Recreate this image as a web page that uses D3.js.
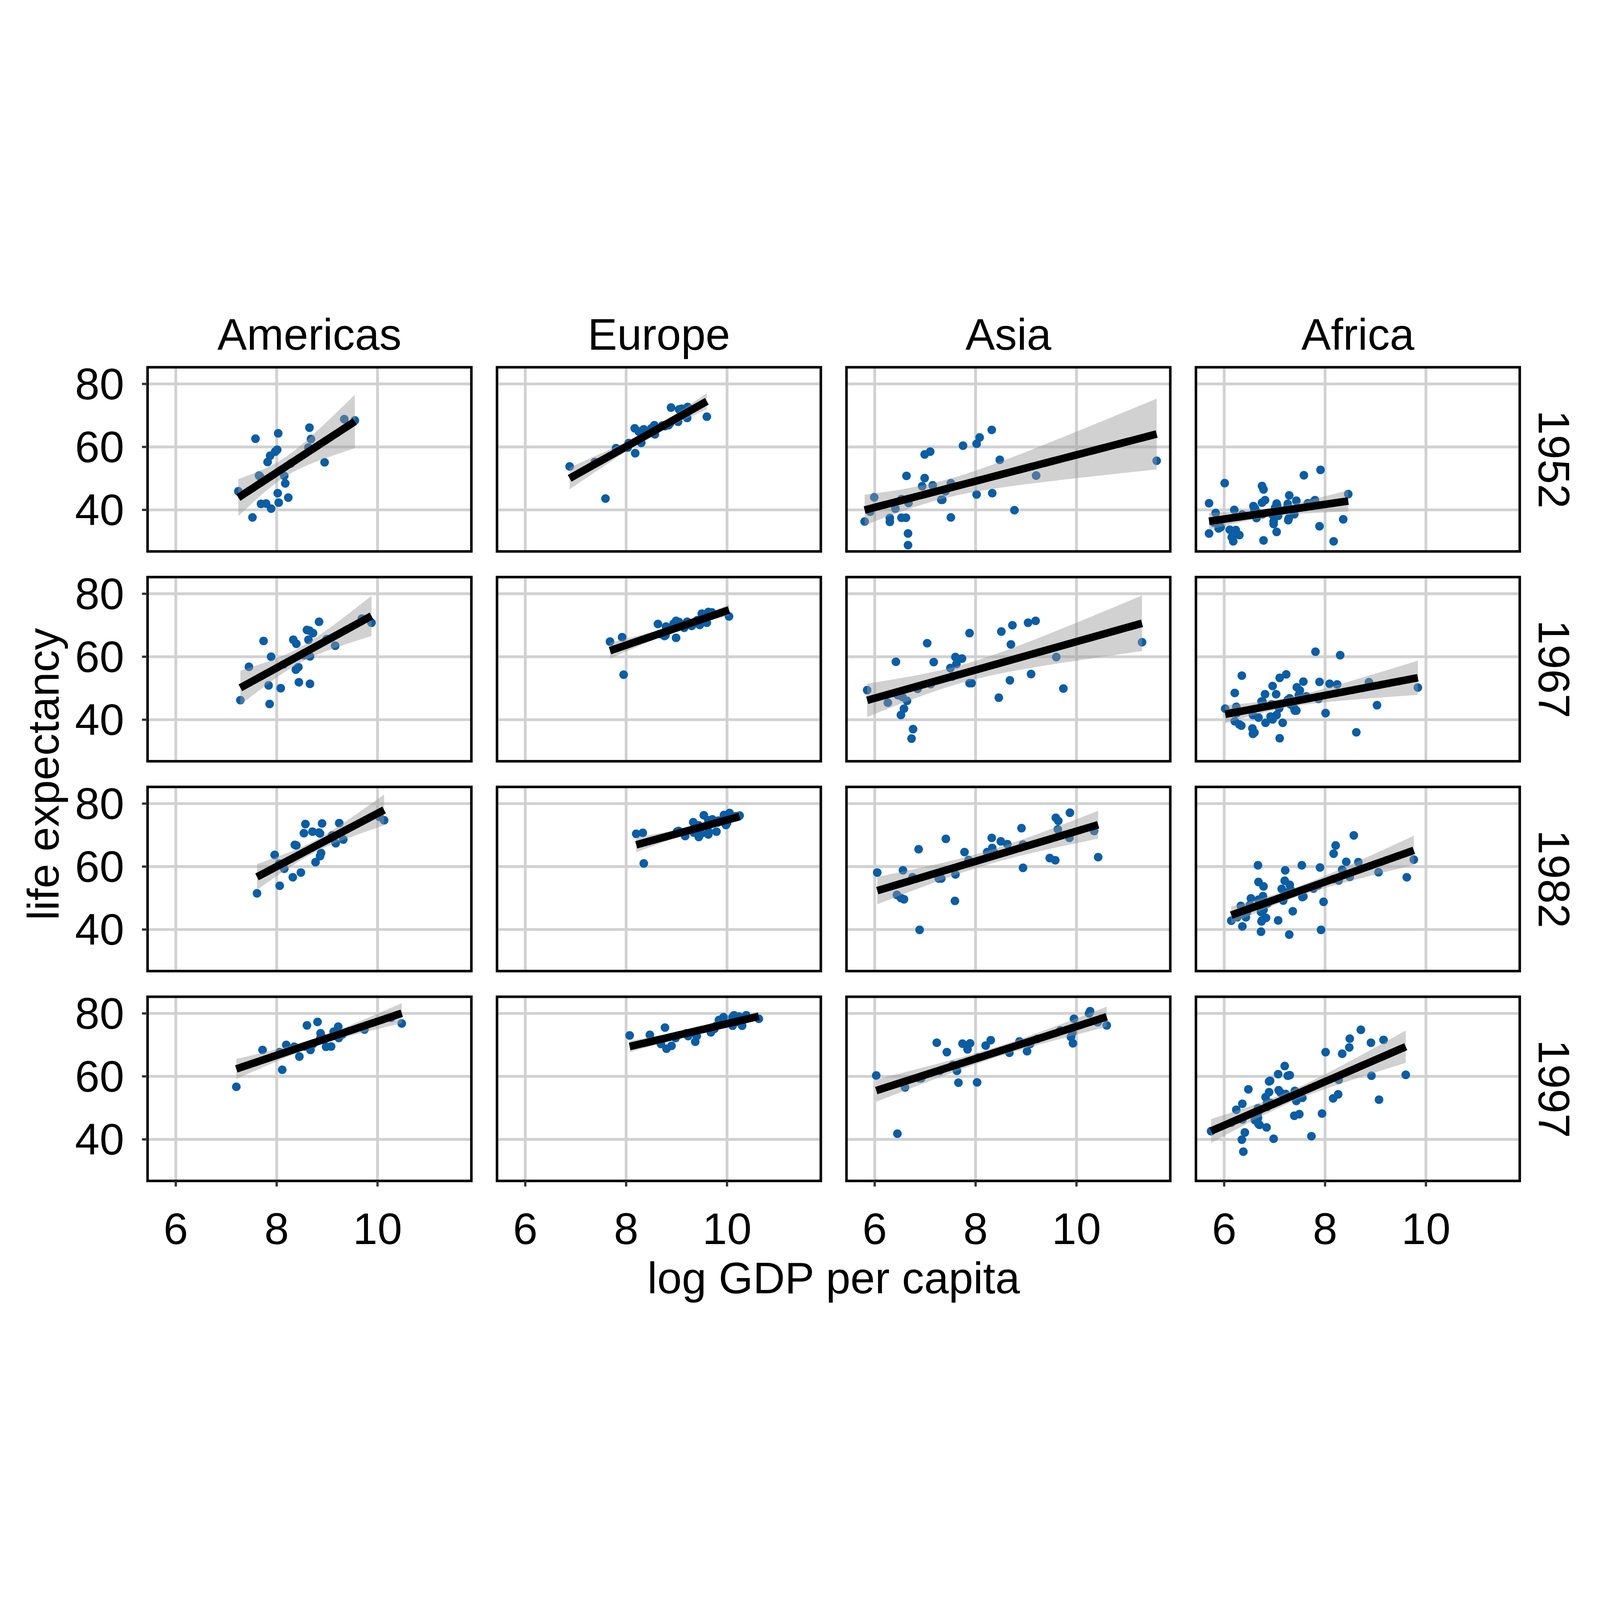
<!DOCTYPE html>
<html>
<head>
  <meta charset="utf-8">
  <title>life expectancy vs log GDP per capita</title>
  <script src="https://d3js.org/d3.v7.min.js"></script>
  <style>
    html, body { margin: 0; padding: 0; background: #fff; overflow: hidden; }
    svg { display: block; width: 100vw; height: 100vh; }
    text { font-family: "Liberation Sans", Arial, sans-serif; fill: #000; }
  </style>
</head>
<body>
<script>
// facets and tick labels
var continents = ["Americas", "Europe", "Asia", "Africa"];
var years = [1952, 1967, 1982, 1997];
var xTicks = [6, 8, 10];
var yTicks = [40, 60, 80];

// each point: [log GDP per capita, life expectancy]
var americas1952 = [[7.24,45.9],[7.52,37.6],[7.58,62.6],[7.67,50.6],[7.65,50.9],[7.69,41.9],[7.79,42.0],[7.89,40.4],[7.82,55.2],[7.87,57.2],[7.97,58.5],[8.01,59.1],[8.03,64.3],[8.02,45.3],[8.04,42.3],[8.15,50.8],[8.17,48.4],[8.23,43.9],[8.28,54.7],[8.63,59.8],[8.65,66.1],[8.68,62.5],[8.95,55.1],[9.34,68.8],[9.55,68.4]];
var europe1952 = [[7.38,55.2],[8.72,66.8],[9.03,68.0],[6.88,53.8],[7.80,59.6],[8.05,61.2],[8.84,66.9],[9.18,70.8],[8.77,66.6],[8.86,67.4],[8.87,67.5],[8.17,65.9],[8.57,64.0],[8.89,72.5],[8.56,66.9],[8.50,65.9],[7.88,59.2],[9.10,72.1],[9.22,72.7],[8.30,61.3],[8.03,59.8],[8.05,61.1],[8.18,58.0],[8.53,64.4],[8.35,65.6],[8.25,64.9],[9.05,71.9],[9.60,69.6],[7.59,43.6],[9.21,69.2]];
var asia1952 = [[5.80,36.3],[5.91,39.4],[5.99,44.0],[6.30,37.4],[6.30,36.2],[6.41,40.4],[6.53,37.5],[6.53,43.4],[6.62,37.5],[6.67,42.2],[6.66,32.5],[6.66,28.8],[6.63,50.8],[6.94,47.5],[6.99,50.1],[6.99,57.6],[7.10,58.5],[7.15,47.8],[7.34,43.2],[7.32,43.2],[7.40,45.9],[7.51,48.5],[7.51,37.6],[7.75,60.4],[8.02,61.0],[8.08,63.0],[8.32,65.4],[8.02,44.9],[8.33,45.3],[8.48,55.9],[8.77,39.9],[9.20,50.9],[11.59,55.6]];
var africa1952 = [[7.80,43.1],[8.17,30.0],[6.97,38.2],[6.75,47.6],[6.30,32.0],[5.83,39.0],[7.07,38.5],[6.98,35.5],[7.07,38.1],[7.01,40.7],[6.66,39.1],[7.66,42.1],[7.24,40.5],[7.89,34.8],[7.26,41.9],[5.93,34.5],[5.80,35.9],[5.89,34.1],[8.36,37.0],[6.18,30.0],[6.81,43.1],[6.23,33.6],[5.70,32.5],[6.75,42.3],[5.70,42.1],[6.36,38.5],[7.78,42.7],[7.27,36.7],[5.91,36.3],[6.11,33.7],[6.61,40.5],[7.58,51.0],[7.43,42.9],[6.15,31.3],[7.79,41.7],[6.64,37.4],[6.98,36.3],[7.91,52.7],[6.20,40.0],[6.78,46.5],[7.28,37.3],[6.78,30.3],[7.04,33.0],[8.46,45.0],[7.39,38.6],[7.05,41.4],[6.58,41.2],[6.76,38.6],[7.29,44.6],[6.60,40.0],[7.04,42.0],[6.01,48.5]];

var americas1967 = [[8.99,65.6],[7.86,45.0],[8.14,57.6],[9.69,72.1],[8.54,60.5],[7.89,60.0],[8.33,65.4],[8.65,68.3],[7.45,56.8],[8.43,56.7],[8.38,55.9],[8.08,50.0],[7.28,46.2],[7.84,50.9],[8.72,67.5],[8.66,60.1],[8.44,51.9],[8.39,64.1],[7.74,65.0],[8.66,51.4],[8.84,71.1],[8.63,65.4],[9.88,70.8],[8.60,68.5],[9.16,63.5]];
var europe1967 = [[7.92,66.2],[9.46,70.1],[9.48,70.9],[7.68,64.8],[8.63,70.4],[8.85,68.5],[9.34,70.4],[9.68,73.0],[9.30,69.8],[9.41,71.6],[9.60,70.8],[9.05,71.0],[9.14,69.5],[9.50,73.7],[8.94,70.5],[9.21,71.1],[8.68,67.2],[9.64,73.8],[9.70,74.1],[8.79,69.6],[8.76,66.6],[8.78,66.8],[8.99,66.0],[9.04,71.0],[9.15,69.2],[8.99,71.4],[9.63,74.2],[10.04,72.8],[7.95,54.3],[9.56,71.4]];
var asia1967 = [[6.73,34.0],[9.60,59.9],[6.58,43.5],[6.26,45.4],[6.42,58.4],[8.73,70.0],[6.55,47.2],[6.64,46.0],[8.68,52.5],[9.10,54.5],[9.04,70.8],[9.19,71.4],[7.92,51.6],[7.60,59.9],[7.62,57.7],[11.30,64.6],[8.70,63.9],[7.73,59.4],[7.11,51.3],[5.85,49.4],[6.52,41.5],[8.46,47.0],[6.85,49.8],[7.50,56.4],[9.74,49.9],[8.51,68.0],[7.04,64.3],[7.54,53.7],[7.88,67.5],[7.17,58.3],[6.46,47.8],[7.88,51.6],[6.76,37.0]];
var africa1967 = [[8.09,51.4],[8.62,36.0],[6.94,44.9],[7.10,53.3],[6.68,40.7],[6.02,43.5],[7.32,44.8],[7.04,41.5],[7.09,43.6],[7.54,46.5],[6.76,45.7],[7.89,52.0],[7.63,47.4],[8.01,42.1],[7.50,49.3],[6.82,39.0],[6.15,42.2],[6.25,42.1],[9.03,44.6],[6.60,35.9],[7.03,48.1],[6.56,37.2],[6.57,35.5],[6.96,50.7],[6.21,48.5],[6.57,41.5],[9.84,50.2],[7.40,42.9],[6.21,39.5],[6.30,38.5],[7.26,46.3],[7.81,61.6],[7.44,50.3],[6.34,38.1],[8.24,51.2],[6.96,40.1],[6.92,41.0],[8.30,60.5],[6.24,44.1],[7.23,54.4],[7.39,43.6],[7.10,34.1],[7.16,39.0],[8.87,51.9],[7.43,42.9],[7.87,46.6],[6.74,45.8],[7.30,46.8],[7.57,52.1],[6.81,48.1],[7.48,47.8],[6.35,54.0]];

var americas1982 = [[9.10,69.9],[8.06,53.9],[8.86,63.3],[10.04,75.8],[8.54,70.6],[8.39,66.7],[8.57,73.5],[8.90,73.7],[7.96,63.7],[8.88,64.3],[8.32,56.6],[8.48,58.1],[7.61,51.5],[8.05,60.9],[8.71,71.1],[9.17,67.4],[8.15,59.3],[8.86,70.5],[8.36,66.9],[8.77,61.4],[9.24,73.8],[9.12,68.8],[10.13,74.7],[8.84,70.8],[9.32,68.6]];
var europe1982 = [[8.20,70.4],[9.98,73.2],[9.95,73.9],[8.33,70.7],[9.01,71.1],[9.49,70.5],[9.64,71.0],[9.98,74.6],[9.83,74.6],[9.92,74.9],[10.00,73.8],[9.63,74.7],[9.44,69.4],[10.05,77.0],[9.44,73.1],[9.71,75.0],[9.33,74.1],[9.97,76.1],[10.18,76.0],[9.04,71.3],[9.37,72.8],[9.17,69.7],[9.63,70.2],[9.34,70.8],[9.79,71.1],[9.54,76.3],[9.94,76.4],[10.25,76.2],[8.35,61.0],[9.81,74.0]];
var asia1982 = [[6.89,39.9],[9.86,69.1],[6.52,50.0],[6.44,51.0],[6.87,65.5],[9.59,75.5],[6.75,56.6],[7.32,56.2],[8.94,59.6],[9.58,62.0],[9.64,74.5],[9.87,77.1],[8.33,65.9],[8.32,69.1],[8.63,67.1],[10.35,71.3],[8.94,67.0],[8.50,68.0],[7.60,57.5],[6.05,58.1],[6.58,49.6],[9.47,62.7],[7.27,56.2],[7.86,62.1],[10.43,63.0],[9.63,71.8],[7.41,68.8],[8.23,64.6],[8.91,72.2],[7.78,64.6],[6.56,58.8],[8.37,64.4],[7.59,49.1]];
var africa1982 = [[8.66,61.4],[7.92,39.9],[7.17,49.2],[8.42,61.5],[6.69,48.1],[6.33,47.5],[7.77,53.0],[6.86,48.3],[6.68,49.5],[7.14,52.9],[6.51,47.8],[8.49,56.7],[7.86,54.0],[7.97,48.8],[8.16,56.0],[6.83,43.7],[6.26,43.9],[6.36,41.0],[9.62,56.6],[6.73,45.6],[6.78,53.7],[6.75,42.9],[6.73,39.3],[7.21,58.8],[6.68,55.1],[6.35,46.1],[9.76,62.2],[7.57,50.5],[6.45,45.6],[6.43,43.9],[7.30,54.2],[8.21,66.7],[7.90,59.7],[6.14,42.8],[8.34,59.0],[6.74,42.6],[7.36,45.8],[8.57,69.9],[6.78,46.2],[7.54,60.4],[7.33,52.4],[7.29,38.4],[7.07,42.9],[9.06,58.2],[7.55,50.3],[8.27,55.6],[6.77,50.6],[7.20,55.5],[8.17,64.1],[6.53,49.9],[7.25,51.8],[6.67,60.4]];

var americas1997 = [[9.30,73.3],[8.11,62.1],[8.98,69.4],[10.27,78.6],[9.22,75.8],[8.72,70.3],[8.81,77.3],[8.60,76.2],[8.19,70.0],[8.91,72.3],[8.55,69.5],[8.45,66.3],[7.20,56.7],[8.06,67.7],[8.87,72.3],[9.19,73.7],[7.72,68.4],[8.87,73.7],[8.35,69.4],[8.67,68.4],[9.74,74.9],[9.08,69.5],[10.48,76.8],[9.13,74.2],[9.23,72.2]];
var europe1997 = [[8.07,73.0],[10.28,77.5],[10.22,77.5],[8.47,73.2],[8.69,70.3],[9.20,73.7],[9.68,74.0],[10.30,76.1],[10.07,77.1],[10.16,78.6],[10.23,77.3],[9.84,77.9],[9.37,71.0],[10.24,79.0],[10.11,76.1],[10.11,78.8],[8.77,75.5],[10.32,78.0],[10.63,78.3],[9.23,72.8],[9.78,76.0],[8.90,69.7],[8.98,72.2],[9.40,72.8],[9.75,75.1],[9.93,78.8],[10.14,79.4],[10.38,79.4],[8.80,68.8],[10.17,77.2]];
var asia1997 = [[6.45,41.8],[9.92,73.9],[6.88,59.4],[6.60,56.5],[7.74,70.4],[10.25,80.0],[7.29,61.8],[8.05,66.0],[9.02,68.0],[8.03,58.1],[9.95,78.3],[10.27,80.7],[8.20,69.8],[7.43,67.7],[9.68,74.6],[10.60,76.2],[9.08,70.3],[9.22,71.9],[7.55,63.6],[6.03,60.3],[6.92,59.4],[9.89,72.5],[7.63,61.8],[7.84,68.6],[9.93,70.5],[10.42,77.2],[7.89,70.5],[8.30,71.5],[9.91,75.3],[8.67,67.5],[7.23,70.7],[8.87,71.1],[7.66,58.0]];
var africa1997 = [[8.48,69.2],[7.73,41.0],[7.12,54.8],[9.07,52.6],[6.85,50.3],[6.14,45.3],[7.43,52.2],[6.61,46.1],[6.91,51.6],[7.07,60.7],[5.74,42.6],[8.16,53.0],[7.49,48.0],[7.55,53.2],[8.34,67.2],[7.94,48.2],[6.82,53.4],[6.24,49.4],[9.60,60.5],[6.48,55.9],[6.91,58.6],[6.85,51.5],[6.68,44.9],[7.22,54.4],[7.08,55.6],[6.41,42.2],[9.16,71.6],[6.89,55.0],[6.66,47.4],[6.67,49.9],[7.30,60.4],[8.91,70.7],[8.01,67.7],[6.36,46.3],[8.27,58.9],[6.36,51.3],[7.39,47.5],[8.71,74.8],[6.38,36.1],[7.20,63.3],[7.26,60.2],[6.35,39.9],[6.84,43.8],[8.92,60.2],[7.40,55.4],[8.26,54.3],[6.67,48.5],[6.89,58.4],[8.49,72.0],[6.70,44.6],[6.98,40.2],[6.67,46.8]];

// lookup built from the arrays above
var panelData = {
  "Americas": { 1952: americas1952, 1967: americas1967, 1982: americas1982, 1997: americas1997 },
  "Europe":   { 1952: europe1952,   1967: europe1967,   1982: europe1982,   1997: europe1997 },
  "Asia":     { 1952: asia1952,     1967: asia1967,     1982: asia1982,     1997: asia1997 },
  "Africa":   { 1952: africa1952,   1967: africa1967,   1982: africa1982,   1997: africa1997 }
};

var width = 6300;
var height = 4095;
var panel = { left: 581, top: 344, w: 1275, h: 725, stepX: 1376, stepY: 826 };
var fontSize = 174;

// drawn in a 6300 x 4095 coordinate system, scaled to the window
var svg = d3.select("body").append("svg")
  .attr("viewBox", "0 0 " + width + " " + height)
  .attr("preserveAspectRatio", "xMidYMid meet");

svg.append("rect").attr("width", width).attr("height", height).attr("fill", "#fff");

// shared scales for every facet
var x = d3.scaleLinear().domain([5.44, 11.86]).range([0, panel.w]);
var y = d3.scaleLinear().domain([26.8, 85.3]).range([panel.h, 0]);

// t quantile (0.975) approximation
function tQuantile(df) {
  var z = 1.959964;
  return z + (z * z * z + z) / (4 * df) + (5 * Math.pow(z, 5) + 16 * z * z * z + 3 * z) / (96 * df * df);
}

// lm fit with 95% band, like geom_smooth(method = "lm")
function fitLine(pts) {
  var n = pts.length;
  var mx = d3.mean(pts, function(d) { return d[0]; });
  var my = d3.mean(pts, function(d) { return d[1]; });
  var sxx = d3.sum(pts, function(d) { return (d[0] - mx) * (d[0] - mx); });
  var sxy = d3.sum(pts, function(d) { return (d[0] - mx) * (d[1] - my); });
  var b = sxy / sxx;
  var a = my - b * mx;
  var sse = d3.sum(pts, function(d) { var r = d[1] - a - b * d[0]; return r * r; });
  var s = Math.sqrt(sse / (n - 2));
  var t = tQuantile(n - 2);
  var ext = d3.extent(pts, function(d) { return d[0]; });
  return d3.range(80).map(function(i) {
    var xv = ext[0] + (ext[1] - ext[0]) * i / 79;
    var fit = a + b * xv;
    var se = s * Math.sqrt(1 / n + (xv - mx) * (xv - mx) / sxx);
    return { x: xv, y: fit, lo: fit - t * se, hi: fit + t * se };
  });
}

var area = d3.area()
  .x(function(d) { return x(d.x); })
  .y0(function(d) { return y(d.lo); })
  .y1(function(d) { return y(d.hi); });

var line = d3.line()
  .x(function(d) { return x(d.x); })
  .y(function(d) { return y(d.y); });

svg.append("defs").append("clipPath").attr("id", "pclip")
  .append("rect").attr("width", panel.w).attr("height", panel.h);

years.forEach(function(year, row) {
  continents.forEach(function(cont, col) {
    var pts = panelData[cont][year];
    var g = svg.append("g")
      .attr("transform", "translate(" + (panel.left + col * panel.stepX) + "," + (panel.top + row * panel.stepY) + ")");

    // grid
    g.selectAll(".gx").data(xTicks).enter().append("line")
      .attr("x1", function(d) { return x(d); }).attr("x2", function(d) { return x(d); })
      .attr("y1", 0).attr("y2", panel.h)
      .attr("stroke", "#d1d1d1").attr("stroke-width", 11);
    g.selectAll(".gy").data(yTicks).enter().append("line")
      .attr("y1", function(d) { return y(d); }).attr("y2", function(d) { return y(d); })
      .attr("x1", 0).attr("x2", panel.w)
      .attr("stroke", "#d1d1d1").attr("stroke-width", 11);

    var inner = g.append("g").attr("clip-path", "url(#pclip)");

    inner.selectAll("circle").data(pts).enter().append("circle")
      .attr("cx", function(d) { return x(d[0]); })
      .attr("cy", function(d) { return y(d[1]); })
      .attr("r", 17)
      .attr("fill", "#0b5da4");

    var fit = fitLine(pts);
    inner.append("path").datum(fit)
      .attr("d", area)
      .attr("fill", "#999999")
      .attr("fill-opacity", 0.45);
    inner.append("path").datum(fit)
      .attr("d", line)
      .attr("fill", "none")
      .attr("stroke", "#000")
      .attr("stroke-width", 30);

    g.append("rect")
      .attr("width", panel.w).attr("height", panel.h)
      .attr("fill", "none").attr("stroke", "#000").attr("stroke-width", 10);

    // strip labels
    if (row === 0) {
      g.append("text")
        .attr("x", panel.w / 2).attr("y", -69)
        .attr("text-anchor", "middle")
        .attr("font-size", fontSize)
        .text(cont);
    }
    if (col === continents.length - 1) {
      g.append("text")
        .attr("transform", "translate(" + (panel.w + 135) + "," + (panel.h / 2) + ") rotate(90)")
        .attr("text-anchor", "middle")
        .attr("dominant-baseline", "central")
        .attr("font-size", fontSize)
        .text(year);
    }

    // axes
    if (col === 0) {
      g.selectAll(".ty").data(yTicks).enter().append("line")
        .attr("x1", -22).attr("x2", 0)
        .attr("y1", function(d) { return y(d); }).attr("y2", function(d) { return y(d); })
        .attr("stroke", "#333").attr("stroke-width", 9);
      g.selectAll(".ly").data(yTicks).enter().append("text")
        .attr("x", -92).attr("y", function(d) { return y(d); })
        .attr("text-anchor", "end")
        .attr("dominant-baseline", "central")
        .attr("font-size", fontSize)
        .text(function(d) { return d; });
    }
    if (row === years.length - 1) {
      g.selectAll(".tx").data(xTicks).enter().append("line")
        .attr("y1", panel.h).attr("y2", panel.h + 22)
        .attr("x1", function(d) { return x(d); }).attr("x2", function(d) { return x(d); })
        .attr("stroke", "#333").attr("stroke-width", 9);
      g.selectAll(".lx").data(xTicks).enter().append("text")
        .attr("x", function(d) { return x(d); }).attr("y", panel.h + 249)
        .attr("text-anchor", "middle")
        .attr("font-size", fontSize)
        .text(function(d) { return d; });
    }
  });
});

// axis titles
var gridW = panel.stepX * 3 + panel.w;
var gridH = panel.stepY * 3 + panel.h;
svg.append("text")
  .attr("x", panel.left + gridW / 2).attr("y", 3990)
  .attr("text-anchor", "middle")
  .attr("font-size", fontSize)
  .text("log GDP per capita");
svg.append("text")
  .attr("transform", "translate(170," + (panel.top + gridH / 2) + ") rotate(-90)")
  .attr("text-anchor", "middle")
  .attr("dominant-baseline", "central")
  .attr("font-size", fontSize)
  .text("life expectancy");
</script>
</body>
</html>
